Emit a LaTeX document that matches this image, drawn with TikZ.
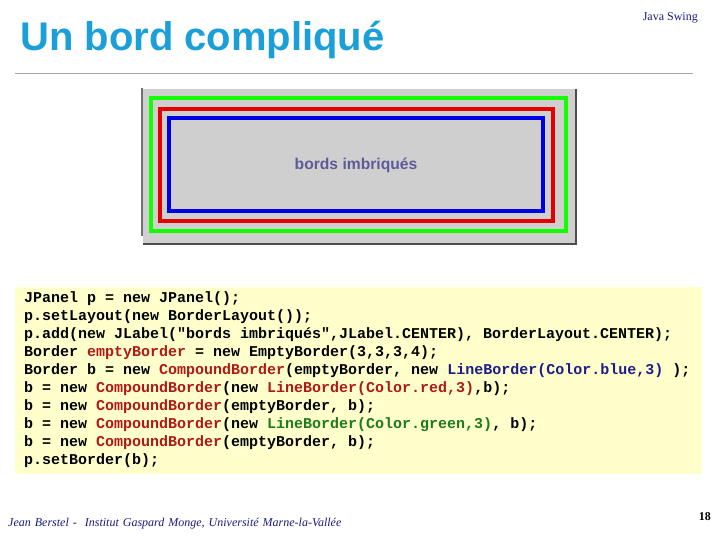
\documentclass[tikz,border=0pt]{standalone}
\usepackage{fontspec}
\setmainfont{Liberation Serif}
\setsansfont{Liberation Sans}
\setmonofont{Liberation Mono}
\definecolor{titleblue}{HTML}{1A9FD8}
\definecolor{codered}{HTML}{B01818}
\definecolor{codeblue}{HTML}{1C1C8C}
\definecolor{codegreen}{HTML}{1E7A1E}
\definecolor{codebg}{HTML}{FFFFCC}
\definecolor{panelgrey}{HTML}{CFCFCF}
\definecolor{labelc}{HTML}{5C5C98}
\definecolor{footblue}{HTML}{1A1A80}
\begin{document}
\begin{tikzpicture}[x=1pt,y=-1pt,
  codeline/.style={anchor=west,inner sep=0pt,font=\ttfamily\bfseries\fontsize{15}{15}\selectfont},
  brd/.style={line width=4.5pt}]
\useasboundingbox (0,0) rectangle (720,540);
\node[anchor=west,inner sep=0pt,text=titleblue,font=\sffamily\bfseries\fontsize{40}{40}\selectfont] (title) at (20,40) {Un bord compliqué};
\node[anchor=east,inner sep=0pt,text=footblue,font=\fontsize{12}{12}\selectfont] (js) at (698,18) {Java Swing};
\draw[gray!70,line width=0.8pt] (15,73) -- (693,73);
% panel
\fill[gray!60!black] (143,89) rectangle (577,245);
\fill[white] (141,87) rectangle (575,243);
\fill[panelgrey] (143,89) rectangle (575,243);
\draw[gray!90!black,line width=1.5pt] (142,88) -- (142,236);
\draw[green!90!lime,brd] (151,98) rectangle (566,231);
\draw[red!90!black,brd] (160,109) rectangle (553,221);
\draw[blue!90!black,brd] (169,118) rectangle (543,211);
\node[text=labelc,font=\sffamily\bfseries\fontsize{17}{17}\selectfont,scale=0.92] (lbl) at (356,165) {bords imbriqués};
% code
\fill[codebg] (15,287) rectangle (702,474);
\node[codeline] (l1) at (24,299) {JPanel p = new JPanel();};
\node[codeline] (l2) at (24,317) {p.setLayout(new BorderLayout());};
\node[codeline] (l3) at (24,335) {p.add(new JLabel("bords imbriqués",JLabel.CENTER), BorderLayout.CENTER);};
\node[codeline] (l4) at (24,353) {Border \textcolor{codered}{emptyBorder} = new EmptyBorder(3,3,3,4);};
\node[codeline] (l5) at (24,371) {Border b = new \textcolor{codered}{CompoundBorder}(emptyBorder, new \textcolor{codeblue}{LineBorder(Color.blue,3)} );};
\node[codeline] (l6) at (24,389) {b = new \textcolor{codered}{CompoundBorder}(new \textcolor{codered}{LineBorder(Color.red,3)},b);};
\node[codeline] (l7) at (24,407) {b = new \textcolor{codered}{CompoundBorder}(emptyBorder, b);};
\node[codeline] (l8) at (24,425) {b = new \textcolor{codered}{CompoundBorder}(new \textcolor{codegreen}{LineBorder(Color.green,3)}, b);};
\node[codeline] (l9) at (24,443) {b = new \textcolor{codered}{CompoundBorder}(emptyBorder, b);};
\node[codeline] (l10) at (24,461) {p.setBorder(b);};
% footer
\node[anchor=north west,inner sep=0pt,text=footblue,font=\itshape\fontsize{12}{15}\selectfont,text width=335pt,align=left] (foot) at (8,518) {Jean Berstel - \ Institut Gaspard Monge, Université Marne-la-Vallée};
\node[anchor=east,inner sep=0pt,font=\bfseries\fontsize{12}{12}\selectfont] (pg) at (711,517) {18};
\end{tikzpicture}
\end{document}
